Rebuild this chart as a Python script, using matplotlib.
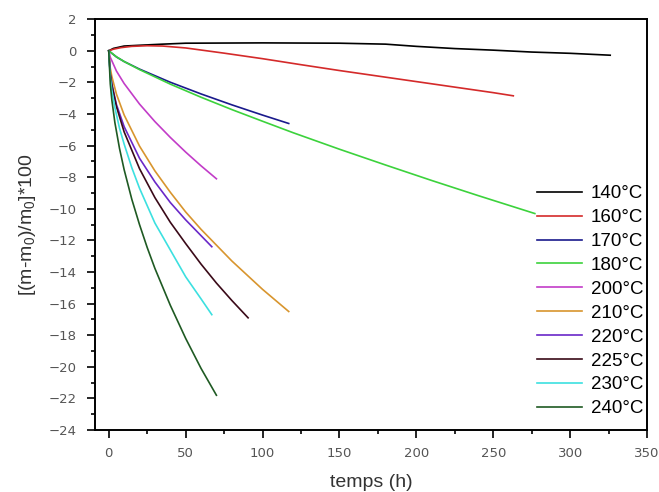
import matplotlib
matplotlib.use('Agg')
import matplotlib.pyplot as plt
from matplotlib.ticker import MultipleLocator

plt.rcParams['font.family'] = ['Liberation Sans', 'DejaVu Sans']

# perte de masse relative en fonction du temps, par temperature
labels = ['140°C', '160°C', '170°C', '180°C', '200°C',
          '210°C', '220°C', '225°C', '230°C', '240°C']
colors = ['#000000', '#d42a2a', '#1a1a8c', '#3cd23c', '#c23cc8',
          '#d8952e', '#6a28c8', '#3a0a18', '#3ce0e0', '#1f5a23']

t140 = [0, 3, 10, 20, 35, 50, 100, 150, 180, 200, 225, 250, 275, 300, 326]
m140 = [0, 0.15, 0.3, 0.35, 0.42, 0.48, 0.5, 0.48, 0.42, 0.28, 0.14, 0.04, -0.08, -0.16, -0.28]

t160 = [0, 3, 8, 15, 25, 35, 50, 75, 100, 125, 150, 175, 200, 225, 250, 263]
m160 = [0, 0.1, 0.2, 0.28, 0.32, 0.3, 0.18, -0.15, -0.5, -0.88, -1.25, -1.6, -1.95, -2.3, -2.65, -2.85]

t170 = [0, 5, 10, 20, 40, 60, 80, 100, 117]
m170 = [0, -0.39, -0.68, -1.16, -1.99, -2.73, -3.42, -4.07, -4.6]

t180 = [0, 5, 10, 20, 40, 60, 80, 100, 120, 150, 180, 210, 240, 277]
m180 = [0, -0.38, -0.68, -1.19, -2.11, -2.94, -3.72, -4.46, -5.19, -6.23, -7.23, -8.21, -9.16, -10.3]

t200 = [0, 1, 5, 10, 20, 30, 40, 50, 60, 70]
m200 = [0, -0.41, -1.28, -2.07, -3.37, -4.48, -5.48, -6.41, -7.28, -8.1]

t210 = [0, 1, 2, 5, 10, 20, 30, 40, 50, 60, 70, 80, 90, 100, 117]
m210 = [0, -1.09, -1.62, -2.74, -4.06, -6.03, -7.6, -8.95, -10.2, -11.3, -12.3, -13.3, -14.2, -15.1, -16.5]

t220 = [0, 1, 2, 5, 10, 20, 30, 40, 50, 60, 67]
m220 = [0, -1.5, -2.1, -3.4, -4.8, -6.8, -8.3, -9.6, -10.7, -11.7, -12.4]

t225 = [0, 1, 2, 5, 10, 20, 30, 40, 50, 60, 70, 80, 90.6]
m225 = [0, -1.48, -2.15, -3.53, -5.13, -7.46, -9.29, -10.85, -12.2, -13.5, -14.7, -15.8, -16.9]

t230 = [0, 1, 2, 4, 7, 10, 15, 20, 30, 40, 50, 60, 67]
m230 = [0, -1.7, -2.5, -3.6, -4.9, -5.9, -7.4, -8.7, -10.9, -12.6, -14.3, -15.7, -16.7]

t240 = [0, 1, 2, 4, 7, 10, 15, 20, 25, 30, 40, 50, 60, 70]
m240 = [0, -2.1, -3.1, -4.55, -6.18, -7.52, -9.4, -11.0, -12.45, -13.77, -16.1, -18.2, -20.1, -21.8]

temps = [t140, t160, t170, t180, t200, t210, t220, t225, t230, t240]
masses = [m140, m160, m170, m180, m200, m210, m220, m225, m230, m240]

fig = plt.figure(figsize=(6.59, 4.92), dpi=100)
ax = fig.add_axes([0.144, 0.126, 0.838, 0.835])

for t, m, c, lab in zip(temps, masses, colors, labels):
    ax.plot(t, m, color=c, lw=1.2, label=lab)

ax.set_xlim(-9, 350)
ax.set_ylim(-24, 2)
ax.xaxis.set_major_locator(MultipleLocator(50))
ax.xaxis.set_minor_locator(MultipleLocator(25))
ax.yaxis.set_major_locator(MultipleLocator(2))
ax.yaxis.set_minor_locator(MultipleLocator(1))
ax.tick_params(which='both', direction='out', top=False, right=False,
               labelsize=9.5, labelcolor='#555555', width=1.2)
ax.tick_params(which='major', length=6)
ax.tick_params(which='minor', length=3)
ax.tick_params(axis='y', pad=7)
ax.tick_params(axis='x', pad=6)
for lbl in ax.get_xticklabels() + ax.get_yticklabels():
    lbl.set_family('DejaVu Sans')
for s in ax.spines.values():
    s.set_linewidth(1.4)

ax.set_xlabel('temps (h)', fontsize=14, color='#333333', labelpad=10)
ax.set_ylabel('[(m-m$_\\mathregular{0}$)/m$_\\mathregular{0}$]*100', fontsize=14,
              color='#333333', labelpad=8)

ax.legend(loc='lower right', bbox_to_anchor=(1.005, 0.015), frameon=False,
          fontsize=13.5, handlelength=2.4, handletextpad=0.45,
          labelspacing=0.36, borderaxespad=0.15, borderpad=0.2)

plt.savefig('out.png', dpi=100)
